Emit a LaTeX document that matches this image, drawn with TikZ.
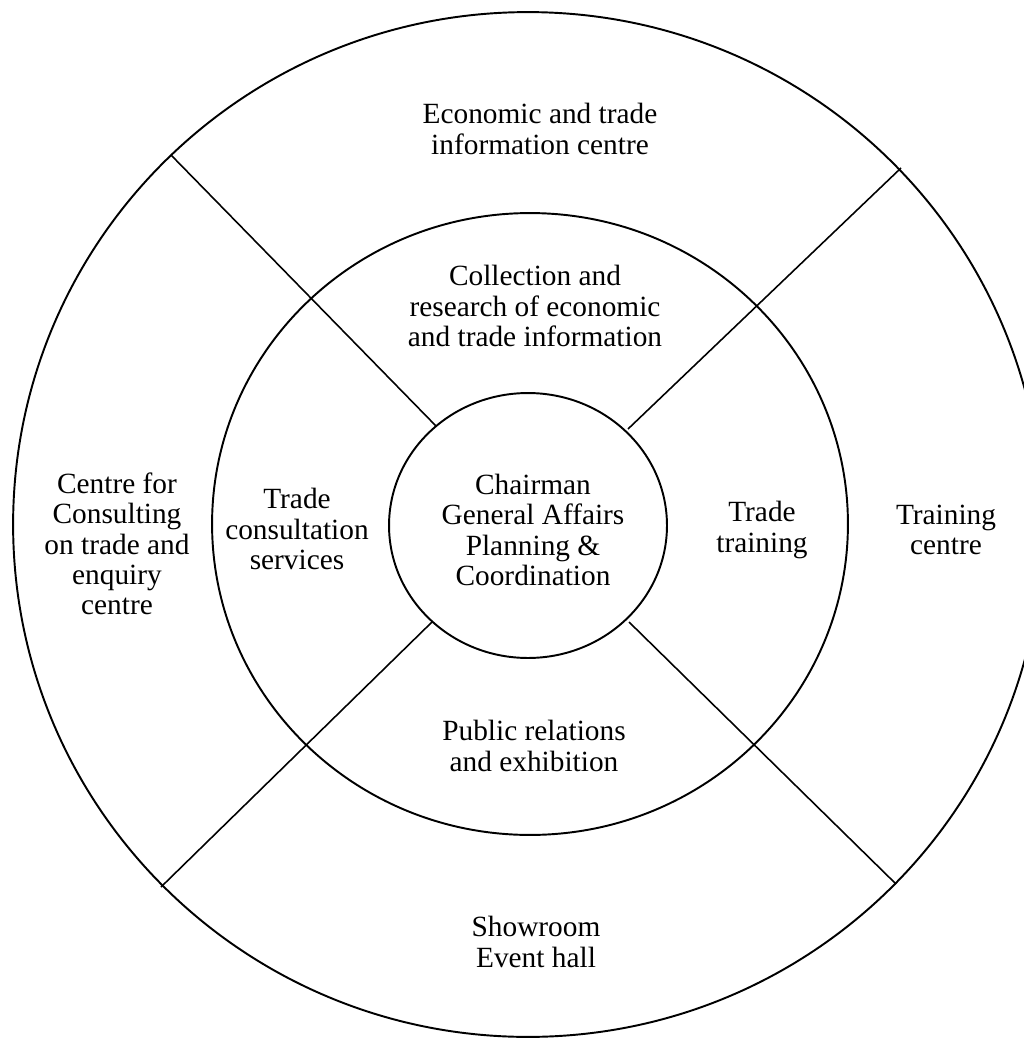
\documentclass[tikz,border=0pt]{standalone}
\usepackage{fontspec}
\setmainfont{Liberation Serif}
\begin{document}
\begin{tikzpicture}[x=0.02cm, y=-0.02cm,
  ring/.style={line width=1.1pt},
  spoke/.style={line width=0.9pt},
  lbl/.style={align=center, inner sep=0pt, font=\fontsize{16.7}{17.3}\selectfont}]
\useasboundingbox (0,0) rectangle (1024,1038);
\clip (0,0) rectangle (1024,1038);

% three concentric rings (radii given in cm: 1 unit = 0.02cm)
\draw[ring] (528,524.5) ellipse [x radius=10.3cm, y radius=10.25cm];
\draw[ring] (530,524) ellipse [x radius=6.36cm, y radius=6.22cm];
\draw[ring] (528,525.5) ellipse [x radius=2.78cm, y radius=2.65cm];

% spoke end points on the inner and outer rings
\coordinate (inTL) at (436,426);
\coordinate (outTL) at (171,155);
\coordinate (inTR) at (628,429);
\coordinate (outTR) at (901,168);
\coordinate (inBL) at (432,622);
\coordinate (outBL) at (161,887);
\coordinate (inBR) at (629,622);
\coordinate (outBR) at (896,884);

\draw[spoke] (inTL) -- (outTL);
\draw[spoke] (inTR) -- (outTR);
\draw[spoke] (inBL) -- (outBL);
\draw[spoke] (inBR) -- (outBR);

% labels
\node[lbl] (core) at (533,530) {Chairman\\General Affairs\\Planning \&\\Coordination};
\node[lbl] (collect) at (535,306) {Collection and\\research of economic\\and trade information};
\node[lbl] (consult) at (297,529) {Trade\\consultation\\services};
\node[lbl] (train) at (762,530) {Trade\\training};
\node[lbl] (pr) at (534,746) {Public relations\\and exhibition};
\node[lbl] (info) at (540,129) {Economic and trade\\information centre};
\node[lbl] (enquiry) at (117,544) {Centre for\\Consulting\\on trade and\\enquiry\\centre};
\node[lbl] (tcentre) at (946,530) {Training\\centre};
\node[lbl] (show) at (536,942) {Showroom\\Event hall};
\end{tikzpicture}
\end{document}
